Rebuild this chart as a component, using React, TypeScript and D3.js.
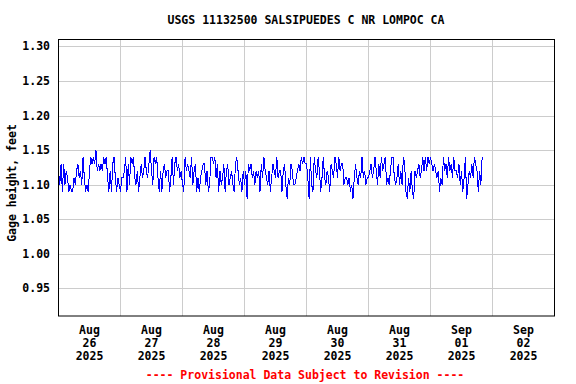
import { useEffect, useRef } from 'react';
import * as d3 from 'd3';

// gage height in hundredths of a foot above 1.00, read every 30 min from Aug 26 00:00
const heightsA = [
  12, 10, 13, 9, 13, 10, 12, 11, 9, 10, 9, 9, 11, 10, 12, 13, 11, 12, 10, 14,
  11, 9, 10, 9, 12, 14, 13, 14, 13, 15, 12, 13, 12, 13, 12, 14, 13, 14, 11, 9,
  12, 9, 13, 14, 11, 9, 11, 10, 9, 11, 11, 12, 14, 9, 13, 10, 14, 13, 14, 11,
  10, 12, 9, 11, 13, 11, 12, 14, 12, 11, 13, 15, 12, 10, 14, 13, 14, 11, 9, 12,
  9, 12, 13, 11, 12,
];
const heightsB = [
  12, 9, 11, 14, 10, 13, 14, 12, 13, 11, 12, 10, 9, 14, 12, 13, 12, 11, 14, 10,
  12, 13, 9, 11, 9, 11, 12, 13, 13, 10, 12, 9, 10, 14, 14, 13, 14, 11, 13, 9,
  12, 10, 11, 13, 9, 12, 13, 10, 11, 12, 10, 9, 13, 14, 12, 10, 11, 9, 12, 10,
  12, 8, 13, 12, 13, 11, 12, 10, 12, 11, 12, 9, 13, 11, 14, 12, 11, 10, 12, 9,
  11, 13, 12, 11,
];
const heightsC = [
  14, 11, 12, 12, 9, 12, 13, 10, 8, 11, 10, 13, 12, 10, 10, 11, 12, 13, 12, 14,
  13, 14, 13, 13, 11, 8, 14, 10, 9, 14, 12, 11, 14, 12, 9, 11, 14, 11, 10, 12,
  11, 9, 13, 12, 11, 14, 13, 11, 14, 12, 13, 13, 10, 11, 11, 10, 11, 9, 10, 8,
  11, 13, 11, 10, 12, 11, 14, 11, 12, 10, 11, 11, 12, 13, 11, 12, 14, 12, 10, 13,
  11, 14, 12, 13,
];
const heightsD = [
  14, 10, 11, 10, 12, 14, 14, 11, 10, 11, 13, 10, 12, 10, 14, 13, 9, 8, 11, 9,
  12, 9, 8, 12, 11, 12, 13, 11, 12, 14, 12, 14, 12, 14, 13, 14, 13, 12, 13, 12,
  11, 12, 9, 11, 10, 14, 12, 13, 11, 14, 12, 13, 11, 14, 12, 12, 11, 13, 10, 12,
  9, 11, 14, 8, 10, 12, 11, 13, 11, 14, 13, 12, 9, 12, 10, 14,
];

const yTicks = [0.95, 1.0, 1.05, 1.1, 1.15, 1.2, 1.25, 1.3];
const dayLabels = [
  ['Aug', '26', '2025'],
  ['Aug', '27', '2025'],
  ['Aug', '28', '2025'],
  ['Aug', '29', '2025'],
  ['Aug', '30', '2025'],
  ['Aug', '31', '2025'],
  ['Sep', '01', '2025'],
  ['Sep', '02', '2025'],
];

const title = 'USGS 11132500 SALSIPUEDES C NR LOMPOC CA';
const footer = '---- Provisional Data Subject to Revision ----';
const FONT = '"DejaVu Sans Mono", monospace';

const App = () => {
  const svgRef = useRef(null);

  useEffect(() => {
    const svg = d3.select(svgRef.current);
    svg.selectAll('*').remove();

    const left = 58.5, right = 554.5, top = 39.5, bottom = 316;
    const start = Date.UTC(2025, 7, 26);
    const dayMs = 24 * 3600 * 1000;

    const x = d3.scaleUtc()
      .domain([new Date(start), new Date(start + 8 * dayMs)])
      .range([left, right]);
    const y = d3.scaleLinear()
      .domain([0.91, 1.31])
      .range([bottom, top]);

    const values = [...heightsA, ...heightsB, ...heightsC, ...heightsD]
      .map(v => 1 + v / 100);
    const series = values.map((v, i) => ({ t: new Date(start + i * 30 * 60 * 1000), v }));

    // grid
    const grid = svg.append('g').attr('stroke', '#cccccc').attr('stroke-width', 1);
    yTicks.forEach(t => {
      const yy = Math.round(y(t)) + 0.5;
      grid.append('line').attr('x1', left).attr('x2', right).attr('y1', yy).attr('y2', yy);
    });
    d3.range(1, 8).forEach(d => {
      const xx = x(new Date(start + d * dayMs));
      grid.append('line').attr('x1', xx).attr('x2', xx).attr('y1', top).attr('y2', bottom);
    });

    // data line
    const line = d3.line<any>()
      .x(d => x(d.t))
      .y(d => y(d.v));
    svg.append('path')
      .datum(series)
      .attr('d', line)
      .attr('fill', 'none')
      .attr('stroke', '#0000ff')
      .attr('stroke-width', 1)
      .attr('shape-rendering', 'crispEdges');

    // frame
    svg.append('rect')
      .attr('x', left).attr('y', top)
      .attr('width', right - left).attr('height', bottom - top)
      .attr('fill', 'none').attr('stroke', '#000').attr('stroke-width', 1);

    // y tick labels
    svg.append('g').selectAll('text')
      .data(yTicks)
      .join('text')
      .attr('x', 50)
      .attr('y', d => Math.round(y(d)) + 4)
      .attr('text-anchor', 'end')
      .attr('font-family', FONT)
      .attr('font-weight', 'bold')
      .attr('font-size', '11.5px')
      .text(d => d.toFixed(2));

    // x labels at noon
    const xl = svg.append('g')
      .attr('font-family', FONT)
      .attr('font-weight', 'bold')
      .attr('font-size', '11.5px')
      .attr('text-anchor', 'middle');
    dayLabels.forEach((lab, i) => {
      const cx = x(new Date(start + i * dayMs + dayMs / 2));
      lab.forEach((s, j) => {
        xl.append('text').attr('x', cx).attr('y', 334 + j * 13).text(s);
      });
    });

    // axis label
    svg.append('text')
      .attr('transform', 'translate(16,183) rotate(-90)')
      .attr('text-anchor', 'middle')
      .attr('font-family', FONT)
      .attr('font-weight', 'bold')
      .attr('font-size', '11.5px')
      .text('Gage height, feet');

    svg.append('text')
      .attr('x', 306).attr('y', 24)
      .attr('text-anchor', 'middle')
      .attr('font-family', FONT)
      .attr('font-weight', 'bold')
      .attr('font-size', '11.5px')
      .text(title);

    svg.append('text')
      .attr('x', 305).attr('y', 379)
      .attr('text-anchor', 'middle')
      .attr('font-family', FONT)
      .attr('font-weight', 'bold')
      .attr('font-size', '11.5px')
      .attr('fill', '#ff0000')
      .text(footer);
  }, []);

  return (
    <svg
      ref={svgRef}
      width={576}
      height={384}
      style={{ position: 'absolute', left: 0, top: 0, background: '#fff' }}
    />
  );
};

export default App;
